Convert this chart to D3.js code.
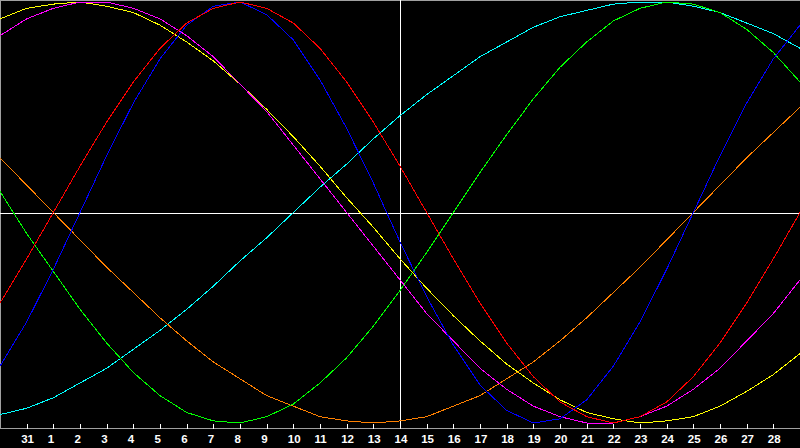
<!DOCTYPE html>
<meta charset="utf-8">
<html>
<style>
  body { margin: 0; background: #000; }
  svg { display: block; }
</style>
<body>
<div id="chartContainer"></div>
<script src="https://cdn.jsdelivr.net/npm/d3@7"></script>
<script type="text/javascript">

  // day offsets from the last day of the previous month (-1 = 30th, 0 = 31st)
  var days = d3.range(-1, 30);
  var tickDays = d3.range(0, 29);
  var tickLabels = ["31","1","2","3","4","5","6","7","8","9","10","11","12","13","14",
                    "15","16","17","18","19","20","21","22","23","24","25","26","27","28"];

  // cycle values in percent, one per day
  var physical = [-73,-52,-27,0,27,52,73,89,98,100,94,82,63,40,14,-14,-40,-63,-82,-94,-100,-98,-89,-73,-52,-27,0,27,52,73,89];
  var emotional = [-43,-22,0,22,43,62,78,90,97,100,97,90,78,62,43,22,0,-22,-43,-62,-78,-90,-97,-100,-97,-90,-78,-62,-43,-22,0];
  var intellectual = [10,-10,-28,-46,-62,-76,-87,-95,-99,-100,-97,-91,-81,-69,-54,-37,-19,0,19,37,54,69,81,91,97,100,99,95,87,76,62];
  var intuitive = [84,92,97,100,100,97,92,84,74,61,48,32,16,0,-16,-32,-48,-61,-74,-84,-92,-97,-100,-100,-97,-92,-84,-74,-61,-48,-32];
  var aesthetic = [92,97,99,100,98,95,89,81,72,61,49,36,22,7,-7,-22,-36,-49,-61,-72,-81,-89,-95,-98,-100,-99,-97,-92,-85,-77,-67];
  var awareness = [26,13,0,-13,-26,-38,-50,-61,-71,-79,-87,-92,-97,-99,-100,-99,-97,-92,-87,-79,-71,-61,-50,-38,-26,-13,0,13,26,38,50];
  var spiritual = [-96,-93,-88,-81,-74,-65,-56,-46,-35,-23,-12,0,12,23,35,46,56,65,74,81,88,93,96,99,100,100,98,95,90,85,78];

  var series = [
    { name: "spiritual", values: spiritual, color: "#00ffff" },
    { name: "awareness", values: awareness, color: "#ff8000" },
    { name: "intellectual", values: intellectual, color: "#00ff00" },
    { name: "aesthetic", values: aesthetic, color: "#ffff00" },
    { name: "intuitive", values: intuitive, color: "#ff00ff" },
    { name: "physical", values: physical, color: "#0000ff" },
    { name: "emotional", values: emotional, color: "#ff0000" }
  ];

  var width = 800, height = 448, plotBottom = 428;

  var svg = d3.select("#chartContainer").append("svg")
    .attr("width", width)
    .attr("height", height)
    .style("background", "#000");

  var x = d3.scaleLinear().domain([-1, 29]).range([0, 800]);
  var y = d3.scaleLinear().domain([-100, 100]).range([423, 2]);

  // frame (top, left, bottom)
  svg.append("path")
    .attr("d", "M0.5," + plotBottom + "V0.5H800")
    .attr("fill", "none")
    .attr("stroke", "#a0a0a0")
    .attr("shape-rendering", "crispEdges");

  // centre lines
  svg.append("line")
    .attr("x1", 0).attr("x2", width)
    .attr("y1", Math.round(y(0)) + 0.5).attr("y2", Math.round(y(0)) + 0.5)
    .attr("stroke", "#ffffff")
    .attr("shape-rendering", "crispEdges");
  svg.append("line")
    .attr("x1", x(14) + 0.5).attr("x2", x(14) + 0.5)
    .attr("y1", 0).attr("y2", plotBottom)
    .attr("stroke", "#ffffff")
    .attr("shape-rendering", "crispEdges");

  // curves
  var line = d3.line()
    .x(function (d, i) { return x(days[i]); })
    .y(function (d) { return y(d); });

  svg.selectAll("path.cycle")
    .data(series)
    .enter()
    .append("path")
    .attr("class", "cycle")
    .attr("d", function (s) { return line(s.values); })
    .attr("fill", "none")
    .attr("stroke", function (s) { return s.color; })
    .attr("stroke-width", 1)
    .attr("shape-rendering", "crispEdges");

  // day axis
  var axis = d3.axisBottom(x)
    .tickValues(tickDays)
    .tickSizeInner(-5)
    .tickSizeOuter(0)
    .tickFormat(function (d, i) { return tickLabels[i]; });

  var gAxis = svg.append("g")
    .attr("transform", "translate(0," + (plotBottom + 0.5) + ")")
    .call(axis);

  gAxis.select(".domain")
    .attr("d", "M0,0H800")
    .attr("stroke", "#a0a0a0")
    .attr("shape-rendering", "crispEdges");
  gAxis.selectAll(".tick line")
    .attr("stroke", "#ffffff")
    .attr("shape-rendering", "crispEdges");
  gAxis.selectAll(".tick text")
    .attr("fill", "#ffffff")
    .attr("y", 14.5)
    .attr("dy", 0)
    .attr("x", -6)
    .attr("text-anchor", "start")
    .style("font-family", "'Liberation Sans', Arial, sans-serif")
    .style("font-weight", "bold")
    .style("font-size", "11.5px");

</script>
</body>
</html>
